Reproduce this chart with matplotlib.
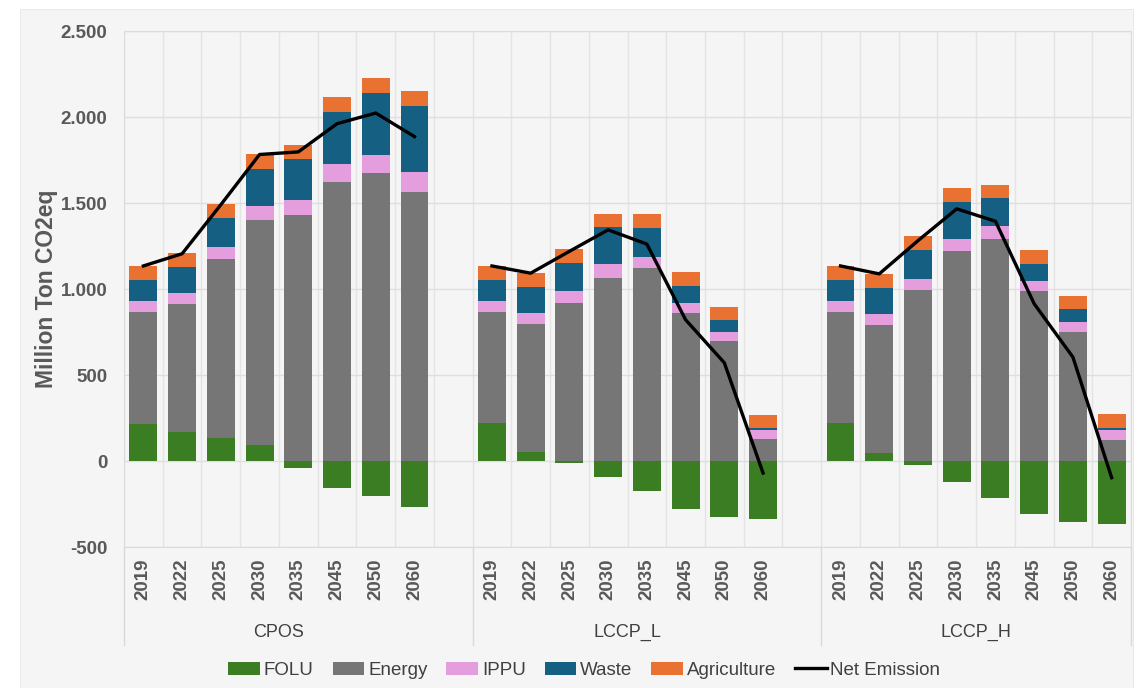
import numpy as np
import matplotlib.pyplot as plt
from matplotlib.patches import Rectangle, Patch
from matplotlib.lines import Line2D
import matplotlib.ticker as mticker

# Data (Million Ton CO2eq)
years = ["2019", "2022", "2025", "2030", "2035", "2045", "2050", "2060"]
scenarios = ["CPOS", "LCCP_L", "LCCP_H"]

folu = {
    "CPOS": [218, 166, 131, 91, -42, -156, -204, -270],
    "LCCP_L": [220, 54, -12, -91, -174, -278, -327, -340],
    "LCCP_H": [220, 48, -25, -122, -213, -311, -354, -369],
}
energy = {
    "CPOS": [648, 746, 1042, 1311, 1431, 1622, 1674, 1566],
    "LCCP_L": [647, 744, 918, 1066, 1121, 862, 697, 126],
    "LCCP_H": [647, 744, 995, 1221, 1289, 987, 752, 124],
}
ippu = {
    "CPOS": [62, 64, 71, 81, 87, 102, 106, 116],
    "LCCP_L": [62, 64, 69, 78, 65, 56, 51, 54],
    "LCCP_H": [62, 64, 66, 68, 75, 58, 57, 56],
}
waste = {
    "CPOS": [125, 150, 170, 216, 239, 303, 357, 380],
    "LCCP_L": [124, 148, 166, 214, 170, 100, 71, 13],
    "LCCP_H": [124, 149, 168, 214, 164, 99, 74, 13],
}
agriculture = {
    "CPOS": [83, 83, 81, 83, 83, 92, 92, 90],
    "LCCP_L": [81, 82, 78, 77, 79, 81, 79, 77],
    "LCCP_H": [81, 81, 77, 85, 79, 81, 75, 79],
}
net_emission = {
    "CPOS": [1134, 1205, 1490, 1782, 1797, 1961, 2023, 1886],
    "LCCP_L": [1134, 1092, 1219, 1344, 1261, 821, 571, -70],
    "LCCP_H": [1134, 1088, 1281, 1466, 1394, 914, 604, -97],
}

sectors = [("FOLU", folu, "#3b7d23"),
           ("Energy", energy, "#767676"),
           ("IPPU", ippu, "#e49edd"),
           ("Waste", waste, "#156082"),
           ("Agriculture", agriculture, "#e97132")]

txt = "#595959"
bg = "#f5f5f5"
font = "Liberation Sans"

fig = plt.figure(figsize=(11.37, 6.88), dpi=100, facecolor="white")
fig.patches.append(Rectangle((20 / 1137, 0), 1113 / 1137, 679 / 688,
                             transform=fig.transFigure, facecolor=bg,
                             edgecolor="#e6e6e6", lw=0.6, zorder=-10))
ax = fig.add_axes([124 / 1137, 1 - 547 / 688, 1007 / 1137, 516 / 688])
ax.set_facecolor(bg)

n = len(years)
group_start = [0, 9, 18]
width = 0.72

for g, sc in zip(group_start, scenarios):
    x = np.arange(n) + g
    pos_bottom = np.zeros(n)
    neg_bottom = np.zeros(n)
    for name, d, col in sectors:
        vals = np.array(d[sc], dtype=float)
        bottom = np.where(vals >= 0, pos_bottom, neg_bottom)
        ax.bar(x, vals, width, bottom=bottom, color=col, zorder=3)
        pos_bottom += np.clip(vals, 0, None)
        neg_bottom += np.clip(vals, None, 0)
    ax.plot(x, net_emission[sc], color="black", lw=2.4, zorder=4)

# axes styling
ax.set_xlim(-0.5, 25.5)
ax.set_ylim(-500, 2500)
ax.set_yticks(np.arange(-500, 2501, 500))
ax.yaxis.set_major_formatter(mticker.FuncFormatter(
    lambda v, p: f"{int(v):,}".replace(",", ".")))
ax.grid(axis="y", color="#dedede", lw=1, zorder=0)
for b in np.arange(-0.5, 26, 1):
    ax.axvline(b, color="#e4e4e4", lw=1, zorder=0)
for s in ax.spines.values():
    s.set_color("#dcdcdc")
    s.set_linewidth(0.8)

ticks = [g + i for g in group_start for i in range(n)]
ax.set_xticks(ticks)
ax.set_xticklabels(years * 3, rotation=90, fontsize=13.5, fontweight="bold",
                   color=txt, va="top", family=font)
ax.tick_params(axis="x", length=0, pad=8)
ax.tick_params(axis="y", length=0, pad=12, labelsize=13.5, labelcolor=txt)
for lab in ax.get_yticklabels():
    lab.set_fontweight("bold")
    lab.set_family(font)

ax.set_ylabel("Million Ton CO2eq", fontsize=16.5, fontweight="bold",
              color=txt, family=font, labelpad=2)

# grouped category axis
for xb in [-0.5, 8.5, 17.5, 25.5]:
    ax.plot([xb, xb], [0, -0.19], transform=ax.get_xaxis_transform(),
            color="#d9d9d9", lw=1, clip_on=False)
for g, sc in zip(group_start, scenarios):
    ax.text(g + 3.5, -0.165, sc, transform=ax.get_xaxis_transform(),
            ha="center", va="center", fontsize=13, color="#404040",
            family=font)

handles = [Patch(facecolor=c, label=nm) for nm, _, c in sectors]
handles.append(Line2D([], [], color="black", lw=2.4, label="Net Emission"))
fig.legend(handles=handles, loc="center", bbox_to_anchor=(0.514, 0.026),
           ncol=6, frameon=False, handlelength=1.7, handleheight=0.7,
           handletextpad=0.2, columnspacing=1.0,
           prop={"family": font, "size": 13.5})
for t in fig.legends[0].get_texts():
    t.set_color("#404040")

fig.savefig("out.png", dpi=100, facecolor="white")
